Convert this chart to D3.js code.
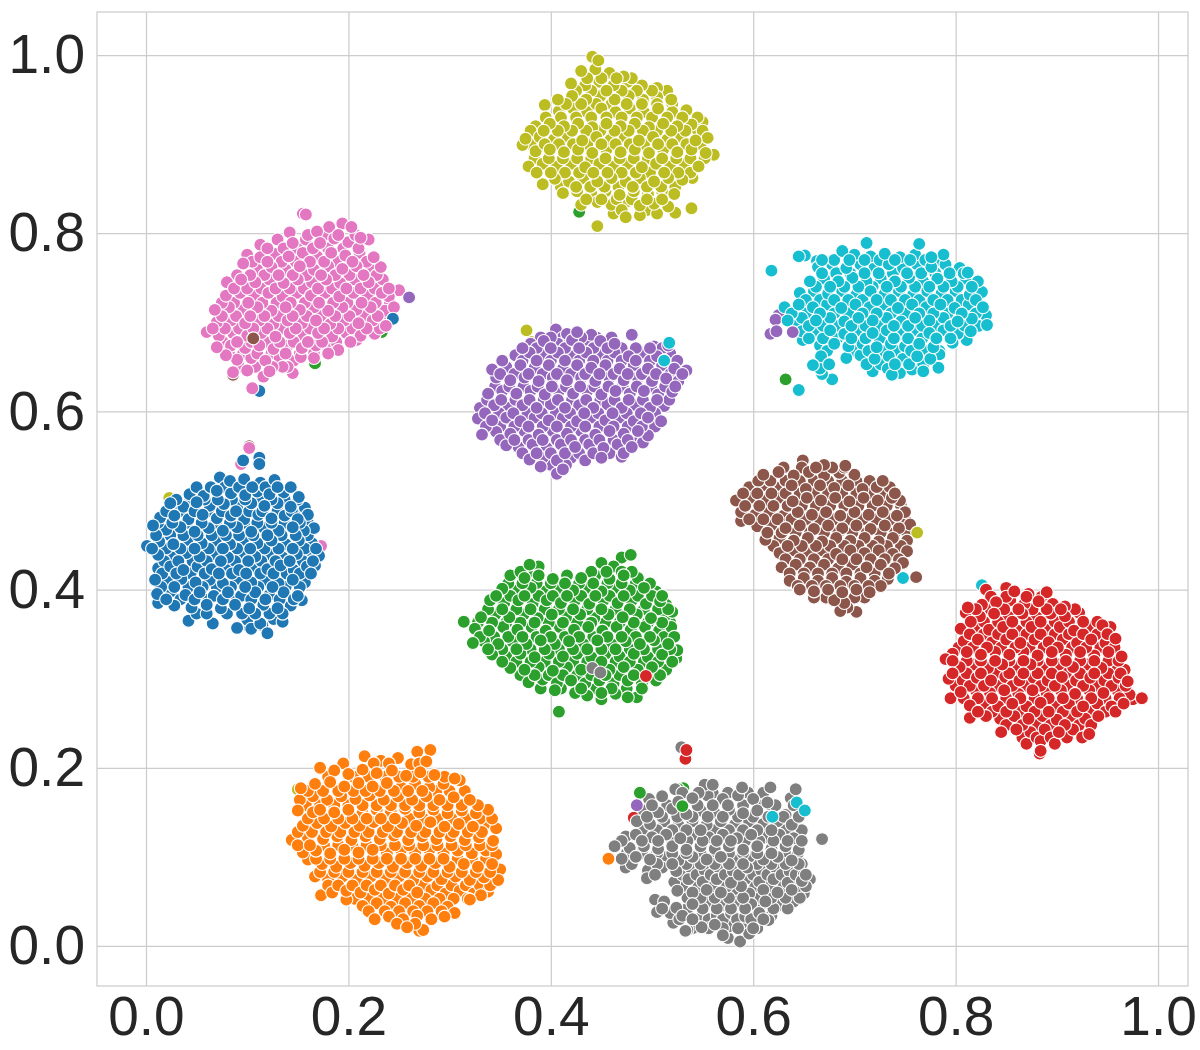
<!DOCTYPE html>
<html>
<head>
<meta charset="utf-8">
<script src="https://cdn.jsdelivr.net/npm/d3@7"></script>
<style>
  body { margin: 0; background: #fff; }
  .tick text { font-family: "Liberation Sans", Arial, sans-serif; font-size: 55px; fill: #262626; }
  .tick line { stroke: #cccccc; stroke-width: 1.25; }
</style>
</head>
<body>
<svg id="chart" width="1200" height="1050"></svg>
<script>
const xTicks = [0, 0.2, 0.4, 0.6, 0.8, 1]
const yTicks = [0, 0.2, 0.4, 0.6, 0.8, 1]
const classes = [0, 1, 2, 3, 4, 5, 6, 7, 8, 9]

// points, one list per class
const class0 = [
[.073,.526],[.083,.522],[.097,.524],[.113,.52],[.127,.523],
[.043,.507],[.057,.505],[.07,.511],[.084,.508],[.098,.506],[.11,.51],[.122,.507],[.136,.509],[.151,.504],
[.024,.497],[.037,.493],[.05,.498],[.063,.494],[.077,.496],[.09,.492],[.104,.497],[.117,.494],[.13,.497],[.143,.493],[.157,.492],
[.014,.481],[.028,.483],[.042,.479],[.056,.484],[.07,.48],[.084,.483],[.097,.479],[.111,.484],[.124,.48],[.137,.483],[.15,.479],[.16,.484],
[.007,.472],[.02,.467],[.034,.47],[.048,.465],[.062,.469],[.076,.466],[.09,.47],[.104,.465],[.117,.469],[.131,.466],[.145,.47],[.166,.469],[.156,.466],
[.001,.449],[.013,.454],[.027,.451],[.041,.456],[.055,.452],[.069,.455],[.083,.451],[.096,.456],[.11,.452],[.124,.455],[.138,.451],[.151,.455],[.164,.452],
[.012,.439],[.026,.436],[.04,.441],[.053,.437],[.067,.44],[.081,.436],[.095,.441],[.108,.437],[.121,.44],[.135,.436],[.149,.44],[.162,.437],[.171,.438],
[.012,.424],[.024,.426],[.037,.422],[.051,.426],[.065,.423],[.079,.427],[.092,.422],[.106,.426],[.12,.423],[.133,.427],[.146,.422],[.159,.426],[.167,.427],
[.009,.411],[.021,.409],[.035,.412],[.049,.408],[.063,.411],[.076,.407],[.09,.412],[.104,.408],[.118,.411],[.131,.407],[.145,.411],[.157,.408],
[.011,.395],[.025,.398],[.039,.394],[.053,.397],[.067,.393],[.081,.397],[.094,.393],[.108,.397],[.122,.394],[.136,.397],[.15,.393],
[.012,.385],[.028,.382],[.045,.38],[.06,.383],[.074,.379],[.088,.383],[.102,.379],[.116,.383],[.13,.379],[.143,.382],[.154,.388],
[.042,.365],[.066,.362],[.09,.358],[.1,.366],[.113,.362],[.126,.367],[.135,.364],
[.09,.357],[.104,.356],[.12,.351]
]
const class1 = [
[.268,.218],[.281,.22],
[.216,.213],[.232,.208],[.249,.211],[.262,.204],[.277,.207],
[.172,.2],[.186,.197],[.2,.193],[.214,.198],[.228,.194],[.243,.197],[.257,.191],[.271,.195],[.285,.192],[.305,.188],
[.153,.177],[.167,.182],[.182,.184],[.196,.179],[.21,.183],[.224,.179],[.238,.183],[.252,.178],[.266,.182],[.28,.178],[.294,.182],[.31,.186],
[.152,.164],[.165,.168],[.179,.164],[.193,.168],[.207,.165],[.221,.169],[.235,.164],[.249,.168],[.263,.164],[.277,.168],[.29,.164],[.304,.167],[.32,.164],
[.15,.152],[.165,.15],[.172,.153],[.186,.15],[.2,.153],[.214,.149],[.228,.153],[.242,.15],[.256,.154],[.27,.15],[.284,.153],[.298,.149],[.312,.152],[.326,.149],[.338,.153],
[.155,.135],[.169,.138],[.183,.134],[.197,.138],[.211,.135],[.225,.139],[.239,.134],[.253,.138],[.267,.135],[.281,.139],[.295,.134],[.309,.137],[.323,.134],[.336,.138],[.346,.132],
[.144,.119],[.16,.122],[.175,.12],[.189,.123],[.203,.119],[.217,.123],[.231,.12],[.245,.124],[.259,.119],[.273,.123],[.287,.12],[.301,.123],[.315,.119],[.329,.122],[.343,.118],
[.155,.105],[.168,.107],[.182,.104],[.196,.108],[.21,.105],[.224,.108],[.238,.104],[.252,.108],[.266,.105],[.28,.108],[.294,.104],[.308,.107],[.322,.104],[.336,.107],[.346,.103],
[.16,.097],[.174,.092],[.188,.089],[.202,.093],[.216,.09],[.23,.093],[.244,.089],[.258,.093],[.272,.09],[.286,.093],[.3,.089],[.314,.092],[.328,.089],[.342,.092],[.35,.086],
[.167,.078],[.18,.075],[.194,.078],[.208,.074],[.222,.078],[.236,.075],[.25,.078],[.264,.074],[.278,.078],[.292,.075],[.306,.078],[.32,.074],[.334,.077],[.348,.074],
[.173,.057],[.184,.06],[.198,.062],[.212,.06],[.226,.063],[.24,.059],[.254,.063],[.268,.06],[.282,.063],[.296,.059],[.31,.062],[.324,.059],[.338,.061],[.331,.057],
[.198,.052],[.214,.045],[.228,.048],[.242,.044],[.256,.048],[.27,.045],[.284,.048],[.298,.044],[.305,.037],[.32,.052],
[.226,.03],[.24,.033],[.254,.03],[.268,.034],[.282,.03],[.295,.033],
[.258,.021],[.27,.017],[.274,.018]
]
const class2 = [
[.47,.436],[.479,.439],
[.379,.428],[.388,.426],[.45,.43],[.462,.426],
[.36,.416],[.374,.413],[.388,.416],[.402,.412],[.416,.416],[.43,.413],[.444,.416],[.458,.412],[.472,.416],[.486,.413],
[.352,.401],[.366,.399],[.38,.402],[.394,.398],[.408,.402],[.422,.399],[.436,.402],[.45,.398],[.464,.402],[.478,.399],[.492,.402],[.504,.398],
[.34,.388],[.354,.385],[.368,.388],[.382,.384],[.396,.388],[.41,.385],[.424,.388],[.438,.384],[.452,.388],[.466,.385],[.48,.388],[.494,.384],[.508,.387],[.514,.383],
[.331,.369],[.345,.372],[.359,.369],[.373,.372],[.387,.368],[.401,.372],[.415,.369],[.429,.372],[.443,.368],[.457,.372],[.471,.369],[.485,.372],[.499,.368],[.513,.371],[.52,.375],
[.314,.364],[.325,.356],[.339,.354],[.353,.358],[.367,.355],[.381,.358],[.395,.354],[.409,.358],[.423,.355],[.437,.358],[.451,.354],[.465,.358],[.479,.355],[.493,.358],[.507,.354],[.519,.358],
[.323,.34],[.334,.342],[.348,.339],[.362,.342],[.376,.339],[.39,.343],[.404,.339],[.418,.342],[.432,.339],[.446,.343],[.46,.339],[.474,.342],[.488,.339],[.502,.343],[.516,.339],[.525,.332],
[.342,.327],[.356,.325],[.37,.328],[.384,.324],[.398,.328],[.412,.325],[.426,.328],[.44,.324],[.454,.328],[.468,.325],[.482,.328],[.496,.324],[.51,.327],[.524,.323],
[.36,.312],[.374,.31],[.388,.313],[.402,.309],[.416,.313],[.43,.31],[.444,.318],[.458,.31],[.472,.313],[.486,.31],[.5,.313],[.514,.31],
[.378,.296],[.392,.299],[.406,.295],[.42,.298],[.434,.295],[.448,.298],[.462,.295],[.476,.298],[.49,.294],[.504,.298],
[.404,.287],[.424,.284],[.436,.281],[.45,.277],[.464,.283],[.476,.279],[.485,.279],[.45,.284],
[.408,.263]
]
const class3 = [
[.83,.4],[.85,.402],[.858,.398],[.872,.395],[.89,.397],
[.812,.38],[.826,.383],[.84,.386],[.854,.388],[.868,.384],[.882,.387],[.896,.384],[.908,.381],
[.81,.374],[.824,.37],[.838,.373],[.852,.37],[.866,.373],[.88,.369],[.894,.373],[.908,.37],[.922,.374],
[.805,.356],[.819,.358],[.833,.355],[.847,.358],[.861,.354],[.875,.358],[.889,.355],[.903,.358],[.917,.354],[.931,.358],[.945,.36],[.953,.358],
[.808,.342],[.822,.344],[.836,.341],[.85,.344],[.864,.34],[.878,.344],[.892,.341],[.906,.344],[.92,.34],[.934,.344],[.948,.34],[.958,.345],
[.797,.328],[.811,.33],[.825,.327],[.839,.33],[.853,.327],[.867,.33],[.881,.326],[.895,.33],[.909,.327],[.923,.33],[.937,.326],[.951,.33],[.964,.325],
[.79,.322],[.804,.313],[.818,.316],[.832,.312],[.846,.316],[.86,.313],[.874,.316],[.888,.312],[.902,.316],[.916,.313],[.93,.316],[.944,.312],[.958,.316],[.967,.31],
[.793,.3],[.807,.298],[.821,.301],[.835,.298],[.849,.302],[.863,.298],[.877,.301],[.891,.298],[.905,.302],[.919,.298],[.933,.301],[.947,.298],[.961,.301],[.97,.297],
[.795,.278],[.805,.285],[.82,.287],[.834,.284],[.848,.287],[.862,.283],[.876,.287],[.89,.284],[.904,.287],[.918,.283],[.932,.287],[.946,.284],[.96,.287],[.972,.282],[.984,.278],[.975,.277],
[.814,.27],[.828,.272],[.842,.269],[.856,.272],[.87,.269],[.884,.273],[.898,.269],[.912,.272],[.926,.269],[.94,.272],[.954,.269],[.966,.272],
[.814,.256],[.83,.258],[.844,.255],[.858,.258],[.872,.255],[.886,.258],[.9,.254],[.914,.258],[.928,.255],[.941,.258],
[.845,.24],[.86,.243],[.874,.24],[.888,.243],[.902,.24],[.916,.243],[.932,.238],
[.87,.227],[.884,.23],[.898,.227],[.883,.216],[.884,.219]
]
const class4 = [
[.405,.692],[.416,.687],[.426,.689],[.44,.686],[.48,.686],
[.38,.676],[.393,.679],[.407,.676],[.421,.68],[.435,.676],[.449,.679],[.463,.676],[.502,.673],[.516,.674],
[.365,.663],[.379,.666],[.393,.663],[.407,.666],[.421,.662],[.435,.666],[.449,.663],[.463,.666],[.477,.662],[.491,.666],[.505,.662],[.518,.665],
[.342,.647],[.356,.65],[.37,.652],[.384,.649],[.398,.652],[.412,.648],[.426,.652],[.44,.649],[.454,.652],[.468,.648],[.482,.652],[.496,.648],[.51,.652],[.522,.648],[.534,.646],
[.346,.638],[.36,.635],[.374,.638],[.388,.634],[.402,.638],[.416,.635],[.43,.638],[.444,.634],[.458,.638],[.472,.635],[.486,.638],[.5,.634],[.514,.637],[.526,.634],
[.338,.62],[.352,.623],[.366,.62],[.38,.623],[.394,.619],[.408,.623],[.422,.62],[.436,.623],[.45,.619],[.464,.623],[.478,.62],[.492,.623],[.506,.619],[.52,.622],
[.33,.604],[.344,.607],[.358,.604],[.372,.607],[.386,.604],[.4,.608],[.414,.604],[.428,.607],[.442,.604],[.456,.608],[.47,.604],[.484,.607],[.498,.604],[.512,.606],
[.328,.592],[.342,.59],[.356,.593],[.37,.589],[.384,.593],[.398,.59],[.412,.593],[.426,.589],[.44,.593],[.454,.59],[.468,.593],[.482,.589],[.496,.593],[.509,.589],
[.332,.574],[.346,.577],[.36,.575],[.374,.578],[.388,.574],[.402,.578],[.416,.575],[.43,.578],[.444,.574],[.458,.578],[.472,.575],[.486,.578],[.496,.573],
[.356,.562],[.368,.56],[.382,.563],[.396,.559],[.41,.563],[.424,.56],[.438,.563],[.452,.559],[.466,.563],[.48,.56],[.491,.565],
[.379,.546],[.392,.548],[.406,.545],[.42,.548],[.434,.545],[.45,.548],[.47,.549],
[.39,.538],[.406,.53],[.412,.535]
]
const class5 = [
[.649,.545],[.67,.54],[.691,.539],
[.61,.529],[.625,.532],[.64,.528],[.655,.532],[.67,.528],[.685,.531],[.7,.529],
[.596,.515],[.61,.517],[.624,.514],[.638,.517],[.652,.513],[.666,.517],[.68,.514],[.694,.517],[.708,.513],[.722,.515],[.735,.515],
[.583,.5],[.597,.503],[.611,.5],[.625,.503],[.639,.499],[.653,.503],[.667,.5],[.681,.503],[.695,.499],[.709,.503],[.723,.5],[.737,.503],[.745,.5],
[.588,.487],[.602,.484],[.616,.487],[.63,.483],[.644,.487],[.658,.484],[.672,.487],[.686,.483],[.7,.487],[.714,.484],[.728,.487],[.742,.483],[.75,.487],
[.588,.477],[.604,.471],[.618,.472],[.632,.469],[.646,.472],[.66,.468],[.674,.472],[.688,.469],[.702,.472],[.716,.468],[.73,.472],[.744,.469],[.755,.473],
[.612,.456],[.626,.458],[.64,.455],[.654,.458],[.668,.454],[.682,.458],[.696,.455],[.71,.458],[.724,.454],[.738,.458],[.752,.455],
[.626,.441],[.64,.444],[.654,.441],[.668,.444],[.682,.44],[.696,.444],[.71,.441],[.724,.444],[.738,.44],[.752,.443],
[.628,.425],[.642,.428],[.656,.425],[.67,.428],[.684,.424],[.698,.428],[.712,.425],[.726,.428],[.74,.424],[.748,.43],
[.636,.41],[.65,.413],[.664,.41],[.678,.413],[.692,.409],[.706,.413],[.72,.41],[.733,.412],
[.646,.4],[.66,.398],[.674,.4],[.688,.397],[.702,.4],[.715,.397],
[.68,.388],[.69,.385],[.686,.376],[.693,.38],[.702,.375]
]
const class6 = [
[.155,.822],[.158,.821],
[.142,.801],[.169,.802],[.181,.807],[.194,.811],[.203,.807],
[.113,.787],[.13,.793],[.145,.789],[.158,.793],[.172,.789],[.186,.794],[.2,.79],[.212,.795],[.22,.793],
[.1,.776],[.113,.773],[.127,.777],[.141,.774],[.155,.778],[.169,.774],[.183,.778],[.197,.775],[.211,.778],[.225,.773],
[.096,.766],[.11,.759],[.124,.762],[.138,.759],[.152,.763],[.166,.759],[.18,.763],[.194,.76],[.208,.763],[.222,.759],[.232,.762],
[.08,.745],[.094,.748],[.108,.745],[.122,.748],[.136,.744],[.15,.748],[.164,.745],[.178,.748],[.192,.744],[.206,.748],[.22,.745],[.234,.748],
[.079,.73],[.093,.733],[.107,.73],[.121,.733],[.135,.729],[.149,.733],[.163,.73],[.177,.733],[.191,.729],[.205,.733],[.219,.73],[.233,.733],[.24,.729],[.25,.736],
[.068,.714],[.082,.717],[.096,.714],[.11,.717],[.124,.713],[.138,.717],[.152,.714],[.166,.717],[.18,.713],[.194,.717],[.208,.714],[.222,.717],[.236,.713],[.245,.717],
[.07,.7],[.084,.702],[.098,.699],[.112,.702],[.126,.698],[.14,.702],[.154,.699],[.168,.702],[.182,.698],[.196,.702],[.21,.699],[.224,.702],[.237,.697],
[.06,.689],[.072,.685],[.086,.688],[.1,.685],[.114,.688],[.128,.684],[.142,.688],[.156,.685],[.17,.688],[.184,.684],[.198,.688],[.212,.685],[.226,.687],
[.07,.672],[.084,.674],[.098,.671],[.112,.674],[.126,.67],[.14,.674],[.154,.671],[.168,.674],[.18,.67],[.19,.669],[.208,.68],
[.079,.663],[.09,.658],[.104,.66],[.118,.657],[.132,.66],[.146,.657],[.153,.661],[.166,.66],
[.086,.644],[.1,.646],[.116,.639],[.122,.645],[.135,.65],[.145,.643],
[.105,.626]
]
const class7 = [
[.529,.223],
[.523,.176],[.552,.181],[.56,.181],[.589,.178],[.617,.178],[.642,.176],
[.497,.165],[.51,.168],[.526,.162],[.54,.166],[.555,.169],[.57,.165],[.585,.169],[.6,.165],[.614,.161],[.637,.166],
[.492,.152],[.506,.15],[.52,.154],[.534,.148],[.548,.152],[.562,.149],[.576,.153],[.59,.149],[.604,.152],[.618,.149],[.632,.147],[.648,.153],
[.485,.14],[.498,.137],[.512,.14],[.526,.136],[.54,.14],[.554,.136],[.568,.14],[.582,.136],[.596,.14],[.61,.137],[.624,.14],[.638,.136],
[.474,.123],[.484,.125],[.5,.122],[.514,.125],[.528,.121],[.542,.125],[.556,.122],[.57,.125],[.584,.121],[.598,.125],[.612,.122],[.626,.125],[.64,.121],[.668,.12],
[.463,.112],[.478,.11],[.492,.112],[.506,.109],[.52,.112],[.534,.108],[.548,.112],[.562,.109],[.576,.112],[.59,.108],[.604,.112],[.618,.109],[.632,.112],[.645,.108],
[.47,.098],[.484,.1],[.498,.097],[.512,.1],[.526,.096],[.54,.1],[.554,.097],[.568,.1],[.582,.096],[.596,.1],[.61,.097],[.624,.1],[.638,.096],[.648,.092],
[.474,.088],[.496,.085],[.51,.088],[.524,.084],[.538,.088],[.552,.085],[.566,.088],[.58,.084],[.594,.088],[.608,.085],[.622,.088],[.636,.084],[.65,.08],
[.495,.076],[.522,.072],[.536,.075],[.55,.072],[.564,.075],[.578,.071],[.592,.075],[.606,.072],[.62,.075],[.634,.071],[.648,.073],[.656,.075],
[.525,.062],[.54,.06],[.554,.063],[.568,.06],[.582,.063],[.596,.059],[.61,.063],[.624,.06],[.638,.063],[.65,.059],
[.503,.052],[.512,.05],[.524,.043],[.54,.047],[.556,.05],[.57,.046],[.584,.05],[.598,.047],[.612,.05],[.626,.046],[.64,.05],
[.505,.038],[.518,.037],[.53,.034],[.55,.035],[.564,.034],[.578,.037],[.592,.033],[.606,.037],[.618,.034],[.615,.029],
[.521,.026],[.535,.018],[.549,.021],[.562,.024],[.576,.022],[.59,.024],[.604,.02],
[.533,.017],[.57,.012],[.575,.009],[.587,.005],[.596,.014]
]
const class8 = [
[.441,.998],[.447,.994],
[.43,.982],[.444,.984],[.458,.98],[.472,.976],
[.42,.968],[.434,.966],[.448,.97],[.462,.966],[.476,.97],[.49,.966],[.505,.963],
[.407,.95],[.421,.954],[.435,.95],[.449,.954],[.463,.95],[.477,.954],[.491,.95],[.505,.953],[.519,.95],
[.394,.944],[.408,.937],[.422,.94],[.436,.936],[.45,.94],[.464,.936],[.478,.94],[.492,.936],[.506,.94],[.52,.936],[.534,.938],
[.385,.92],[.399,.923],[.413,.92],[.427,.923],[.441,.919],[.455,.923],[.469,.92],[.483,.923],[.497,.919],[.511,.923],[.525,.92],[.539,.922],[.55,.925],[.545,.916],
[.375,.906],[.389,.908],[.403,.905],[.417,.908],[.431,.904],[.445,.908],[.459,.905],[.473,.908],[.487,.904],[.501,.908],[.515,.905],[.529,.908],[.543,.904],[.555,.907],
[.372,.899],[.385,.892],[.399,.894],[.413,.891],[.427,.894],[.441,.89],[.455,.894],[.469,.891],[.483,.894],[.497,.89],[.511,.894],[.525,.891],[.539,.894],[.553,.89],[.561,.888],
[.378,.875],[.392,.878],[.406,.875],[.42,.878],[.434,.874],[.448,.878],[.462,.875],[.476,.878],[.49,.874],[.504,.878],[.518,.875],[.532,.878],[.546,.875],
[.392,.855],[.404,.861],[.418,.858],[.432,.862],[.446,.858],[.46,.862],[.474,.858],[.488,.862],[.502,.858],[.516,.862],[.53,.86],[.54,.862],
[.412,.845],[.426,.847],[.44,.844],[.454,.847],[.468,.843],[.482,.847],[.496,.844],[.51,.847],[.522,.844],
[.43,.832],[.446,.835],[.46,.832],[.474,.835],[.488,.831],[.502,.833],[.516,.83],
[.462,.822],[.474,.818],[.488,.82],[.505,.822],[.523,.823],[.539,.828],[.446,.808]
]
const class9 = [
[.712,.789],[.764,.788],[.618,.758],[.645,.624],
[.645,.774],[.651,.775],[.663,.769],[.688,.78],[.7,.776],[.716,.774],[.73,.777],[.745,.773],[.76,.776],[.776,.773],[.788,.776],
[.664,.762],[.678,.765],[.692,.761],[.706,.765],[.72,.762],[.734,.765],[.748,.761],[.762,.765],[.776,.762],[.79,.765],[.804,.761],[.812,.756],
[.656,.746],[.67,.749],[.684,.746],[.698,.75],[.712,.746],[.726,.749],[.74,.746],[.754,.75],[.768,.746],[.782,.749],[.796,.746],[.81,.749],[.822,.746],
[.646,.733],[.66,.735],[.674,.732],[.688,.735],[.702,.731],[.716,.735],[.73,.732],[.744,.735],[.758,.731],[.772,.735],[.786,.732],[.8,.735],[.814,.731],[.826,.734],
[.631,.717],[.645,.72],[.659,.717],[.673,.72],[.687,.716],[.701,.72],[.715,.717],[.729,.72],[.743,.716],[.757,.72],[.771,.717],[.785,.72],[.799,.716],[.813,.72],[.827,.717],
[.634,.702],[.648,.705],[.662,.702],[.676,.705],[.69,.701],[.704,.705],[.718,.702],[.732,.705],[.746,.701],[.76,.705],[.774,.702],[.788,.705],[.802,.701],[.816,.704],[.83,.708],[.831,.697],
[.648,.69],[.662,.688],[.676,.691],[.69,.687],[.704,.691],[.718,.688],[.732,.691],[.746,.687],[.76,.691],[.774,.688],[.788,.691],[.802,.687],[.815,.69],
[.649,.68],[.666,.674],[.68,.676],[.694,.673],[.708,.676],[.722,.672],[.736,.676],[.75,.673],[.764,.676],[.778,.672],[.797,.677],[.811,.68],
[.667,.662],[.692,.66],[.706,.663],[.72,.659],[.734,.662],[.748,.659],[.762,.662],[.775,.659],[.784,.664],
[.659,.652],[.666,.648],[.668,.642],[.718,.645],[.733,.648],[.745,.643],[.757,.647],[.768,.645],[.783,.649],
[.678,.636],[.737,.641]
]
const classPoints = [class0, class1, class2, class3, class4, class5, class6, class7, class8, class9]

// the dense middle of each blob, as [y, [x, x, ...]] rows
const fill0 = [
[.515,[.05,.064,.078,.092,.105,.118,.13,.143]],
[.501,[.03,.044,.058,.071,.085,.098,.111,.124,.137,.15]],
[.488,[.02,.034,.048,.061,.075,.089,.102,.115,.13,.144,.156]],
[.475,[.012,.026,.041,.055,.069,.083,.097,.11,.124,.137,.152,.16]],
[.461,[.01,.024,.037,.051,.065,.079,.092,.106,.12,.134,.148,.16]],
[.446,[.006,.02,.034,.048,.062,.076,.09,.103,.117,.131,.145,.157,.168]],
[.432,[.018,.032,.046,.06,.074,.088,.101,.114,.128,.142,.155,.165]],
[.418,[.016,.03,.044,.058,.072,.085,.099,.113,.126,.139,.152,.163]],
[.403,[.015,.028,.042,.056,.07,.084,.098,.111,.125,.138,.152]],
[.389,[.02,.034,.048,.062,.076,.09,.104,.118,.132,.146]],
[.373,[.05,.06,.08,.095,.108,.122,.135]],
[.36,[.1,.115]]
]
const fill1 = [
[.205,[.195,.225,.24,.27]],
[.19,[.18,.205,.22,.236,.25,.264,.279,.295]],
[.174,[.16,.175,.19,.205,.217,.231,.245,.259,.273,.287,.3,.315]],
[.158,[.158,.172,.186,.2,.214,.228,.242,.256,.27,.284,.298,.312,.328]],
[.143,[.16,.176,.19,.204,.218,.232,.246,.26,.274,.288,.302,.316,.33,.342]],
[.128,[.15,.164,.178,.192,.206,.22,.234,.248,.262,.276,.29,.304,.318,.332]],
[.113,[.15,.162,.176,.19,.204,.218,.232,.246,.26,.274,.288,.302,.316,.33,.342]],
[.098,[.168,.182,.196,.21,.224,.238,.252,.266,.28,.294,.308,.322,.336]],
[.083,[.172,.186,.2,.214,.228,.242,.256,.27,.284,.298,.312,.326,.34]],
[.068,[.18,.19,.204,.218,.232,.246,.26,.274,.288,.302,.316,.33,.34]],
[.053,[.206,.22,.234,.248,.262,.276,.29,.304,.318]],
[.039,[.22,.236,.25,.264,.278,.292]],
[.025,[.248,.266]]
]
const fill2 = [
[.42,[.37,.384,.44,.455,.47,.48]],
[.407,[.358,.372,.386,.4,.414,.428,.442,.456,.47,.484,.498]],
[.393,[.346,.36,.374,.388,.402,.416,.43,.444,.458,.472,.486,.5,.51]],
[.378,[.338,.352,.366,.38,.394,.408,.422,.436,.45,.464,.478,.492,.506,.516]],
[.363,[.328,.342,.356,.37,.384,.398,.412,.426,.44,.454,.468,.482,.496,.51,.518]],
[.347,[.33,.344,.358,.372,.386,.4,.414,.428,.442,.456,.47,.484,.498,.512,.522]],
[.333,[.338,.352,.366,.38,.394,.408,.422,.436,.45,.464,.478,.492,.506,.518]],
[.319,[.352,.366,.38,.394,.408,.422,.436,.45,.464,.478,.492,.506,.52]],
[.304,[.37,.384,.398,.412,.426,.44,.454,.468,.482,.496,.508]],
[.289,[.39,.41,.43,.445,.46,.475,.49]]
]
const fill3 = [
[.392,[.835,.85,.87,.885]],
[.378,[.82,.834,.848,.862,.876,.89,.904,.918]],
[.364,[.815,.828,.842,.856,.87,.884,.898,.912,.926,.94]],
[.35,[.814,.828,.842,.856,.87,.884,.898,.912,.926,.94,.95]],
[.335,[.803,.817,.831,.845,.859,.873,.887,.901,.915,.929,.943,.957]],
[.32,[.797,.811,.825,.839,.853,.867,.881,.895,.909,.923,.937,.951,.961]],
[.306,[.797,.811,.825,.839,.853,.867,.881,.895,.909,.923,.937,.951,.963]],
[.292,[.8,.814,.828,.842,.856,.87,.884,.898,.912,.926,.94,.954,.968]],
[.278,[.808,.822,.836,.85,.864,.878,.892,.906,.92,.934,.948,.962]],
[.263,[.822,.836,.85,.864,.878,.892,.906,.92,.934,.948,.958]],
[.248,[.85,.866,.88,.894,.908,.922,.934]],
[.234,[.866,.88,.894,.91,.925]]
]
const fill4 = [
[.683,[.39,.4,.412,.43,.445,.46]],
[.671,[.372,.386,.4,.414,.428,.442,.456,.47,.484,.498,.51]],
[.657,[.352,.372,.386,.4,.414,.428,.442,.456,.47,.484,.498,.512,.525]],
[.642,[.35,.364,.378,.392,.406,.42,.434,.448,.462,.476,.49,.504,.518,.53]],
[.628,[.345,.359,.373,.387,.401,.415,.429,.443,.457,.471,.485,.499,.513,.523]],
[.613,[.337,.351,.365,.379,.393,.407,.421,.435,.449,.463,.477,.491,.505,.517]],
[.598,[.335,.349,.363,.377,.391,.405,.419,.433,.447,.461,.475,.489,.503]],
[.583,[.336,.35,.364,.378,.392,.406,.42,.434,.448,.462,.476,.49,.503]],
[.568,[.35,.364,.378,.392,.406,.42,.434,.448,.462,.476,.488]],
[.553,[.372,.386,.4,.414,.428,.442,.458,.472]],
[.54,[.4,.415]]
]
const fill5 = [
[.537,[.63,.648,.662,.678,.69]],
[.522,[.605,.617,.632,.646,.66,.674,.688,.702,.715,.728]],
[.508,[.59,.604,.618,.632,.646,.66,.674,.688,.702,.716,.73,.74]],
[.494,[.592,.606,.62,.634,.648,.662,.676,.69,.704,.718,.732,.746]],
[.479,[.596,.61,.624,.638,.652,.666,.68,.694,.708,.722,.736,.75]],
[.464,[.614,.628,.642,.656,.67,.684,.698,.712,.726,.74,.752]],
[.449,[.62,.634,.648,.662,.676,.69,.704,.718,.732,.746]],
[.434,[.632,.646,.66,.674,.688,.702,.716,.73,.744]],
[.418,[.636,.65,.664,.678,.692,.706,.72,.734]],
[.404,[.644,.658,.672,.686,.7,.714,.726]],
[.391,[.66,.672,.7,.71]]
]
const fill6 = [
[.798,[.16,.176,.19,.207]],
[.783,[.12,.136,.15,.165,.18,.195,.21]],
[.768,[.105,.12,.134,.148,.162,.176,.19,.204,.218]],
[.753,[.09,.103,.117,.131,.145,.159,.173,.187,.201,.215,.228]],
[.738,[.087,.1,.114,.128,.142,.156,.17,.184,.198,.212,.226,.24]],
[.722,[.075,.087,.101,.115,.129,.143,.157,.171,.185,.199,.213,.227,.241]],
[.707,[.075,.089,.103,.117,.131,.145,.159,.173,.187,.201,.215,.229,.24]],
[.693,[.066,.078,.092,.106,.12,.134,.148,.162,.176,.19,.204,.218,.231]],
[.678,[.076,.09,.104,.118,.132,.146,.16,.174,.188,.202]],
[.665,[.082,.096,.11,.124,.138,.152,.166,.18]],
[.65,[.092,.108,.125,.14]]
]
const fill7 = [
[.172,[.53,.546,.56,.575,.595,.61]],
[.158,[.5,.515,.53,.545,.56,.575,.59,.605,.622,.64]],
[.145,[.495,.51,.525,.54,.555,.57,.585,.6,.615,.63,.645]],
[.13,[.49,.505,.52,.534,.548,.562,.576,.59,.604,.618,.632,.648]],
[.118,[.47,.49,.506,.52,.535,.55,.564,.578,.592,.606,.62,.634,.648]],
[.104,[.475,.49,.505,.52,.534,.548,.562,.576,.59,.604,.618,.632,.644]],
[.092,[.48,.505,.52,.534,.548,.562,.576,.59,.604,.618,.632,.645]],
[.08,[.503,.53,.544,.558,.572,.586,.6,.614,.628,.642,.652]],
[.067,[.53,.546,.56,.574,.588,.602,.616,.63,.644,.652]],
[.054,[.535,.548,.562,.576,.59,.604,.618,.632,.646]],
[.042,[.51,.535,.55,.564,.578,.592,.606,.62,.634]],
[.03,[.527,.54,.556,.57,.584,.598,.61]],
[.02,[.54,.556,.57,.585,.6]]
]
const fill8 = [
[.974,[.436,.45,.465,.48]],
[.96,[.425,.44,.455,.47,.485,.5,.515]],
[.945,[.415,.43,.445,.46,.475,.49,.505,.52]],
[.93,[.395,.41,.425,.44,.455,.47,.485,.5,.515,.53,.545]],
[.915,[.38,.393,.407,.421,.435,.449,.463,.477,.491,.505,.519,.533,.55]],
[.9,[.38,.394,.408,.422,.436,.45,.464,.478,.492,.506,.52,.534,.548]],
[.884,[.384,.398,.412,.426,.44,.454,.468,.482,.496,.51,.524,.538,.552]],
[.868,[.386,.4,.414,.428,.442,.456,.47,.484,.498,.512,.526,.538]],
[.852,[.41,.425,.439,.453,.467,.481,.495,.509,.523]],
[.838,[.435,.45,.465,.48,.495,.51]],
[.826,[.47,.495]]
]
const fill9 = [
[.77,[.668,.68,.695,.71,.725,.74,.755,.77,.785]],
[.755,[.668,.682,.696,.71,.724,.738,.752,.766,.78,.794,.808]],
[.74,[.662,.676,.69,.704,.718,.732,.746,.76,.774,.788,.802,.816]],
[.725,[.652,.666,.68,.694,.708,.722,.736,.75,.764,.778,.792,.806,.82]],
[.71,[.638,.652,.666,.68,.694,.708,.722,.736,.75,.764,.778,.792,.806,.82]],
[.696,[.641,.655,.669,.683,.697,.711,.725,.739,.753,.767,.781,.795,.809,.823]],
[.682,[.655,.669,.683,.697,.711,.725,.739,.753,.767,.781,.795]],
[.668,[.673,.7,.714,.728,.742,.756,.77,.784]],
[.653,[.675,.712,.726,.74,.754,.768]]
]
const classFill = [fill0, fill1, fill2, fill3, fill4, fill5, fill6, fill7, fill8, fill9]

// stray points, [class, x, y]. under = hidden behind the blobs, over = on top
const strayUnder = [
[8,.023,.503],[6,.173,.449],[6,.094,.541],[5,.102,.561],[2,.167,.654],[2,.233,.689],[5,.086,.641],
[2,.428,.824],[9,.748,.413],[9,.826,.405],[3,.505,.309],[3,.482,.144],
[2,.531,.177],[2,.526,.176],[9,.605,.164],[8,.15,.176],[8,.381,.678],[4,.625,.708],[4,.622,.703]
]
const strayOver = [
[6,.102,.559],[0,.096,.545],[0,.112,.548],[0,.112,.541],
[4,.26,.728],[0,.244,.704],[6,.237,.696],[5,.106,.682],[0,.112,.623],[6,.105,.626],
[8,.376,.691],[9,.517,.677],[9,.512,.657],
[4,.617,.687],[4,.623,.69],[4,.639,.689],[2,.632,.636],
[8,.762,.464],[5,.761,.414],
[7,.441,.312],[7,.449,.307],[3,.494,.303],
[7,.529,.223],[3,.533,.21],[3,.534,.22],
[2,.488,.172],[4,.485,.158],[2,.53,.157],[1,.457,.098],
[9,.619,.145],[9,.643,.161],[9,.651,.152]
]

const margin = {top: 12, right: 12, bottom: 64, left: 97}
const width = 1200 - margin.left - margin.right
const height = 1050 - margin.top - margin.bottom

const xScale = d3.scaleLinear().domain([-0.0484, 1.0296]).range([0, width])
const yScale = d3.scaleLinear().domain([-0.0449, 1.0483]).range([height, 0])
const color = d3.scaleOrdinal(classes, d3.schemeCategory10)

const svg = d3.select('#chart')
const g = svg.append('g')
    .attr('transform', `translate(${margin.left},${margin.top})`)

// x axis + vertical grid
g.append('g')
    .attr('transform', `translate(0,${height})`)
    .call(d3.axisBottom(xScale).tickValues(xTicks).tickFormat(d3.format('.1f')).tickSize(-height).tickPadding(10))
    .call(a => a.select('.domain').remove())

// y axis + horizontal grid
g.append('g')
    .call(d3.axisLeft(yScale).tickValues(yTicks).tickFormat(d3.format('.1f')).tickSize(-width).tickPadding(12))
    .call(a => a.select('.domain').remove())

// frame
g.append('rect')
    .attr('width', width)
    .attr('height', height)
    .attr('fill', 'none')
    .attr('stroke', '#cccccc')
    .attr('stroke-width', 1.25)

function drawDots(rows) {
    g.append('g').selectAll('circle')
        .data(rows)
        .join('circle')
        .attr('cx', d => xScale(d[1]))
        .attr('cy', d => yScale(d[2]))
        .attr('r', 6.5)
        .attr('fill', d => color(d[0]))
        .attr('stroke', '#fff')
        .attr('stroke-width', 1.1)
}

drawDots(strayUnder)

classes.forEach(c => {
    const pts = classPoints[c].concat(classFill[c].flatMap(([y, xs]) => xs.map(x => [x, y])))
    // the rows above are typed top to bottom, the original has no such stacking
    const order = d3.range(pts.length).sort((a, b) => (a * 613) % pts.length - (b * 613) % pts.length)
    drawDots(order.map(i => [c, pts[i][0], pts[i][1]]))
})

drawDots(strayOver)
</script>
</body>
</html>
